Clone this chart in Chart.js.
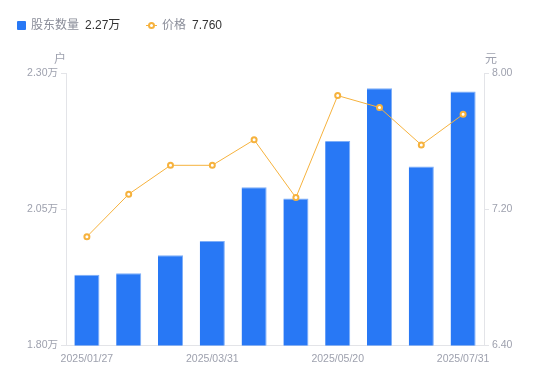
<!DOCTYPE html>
<html><head><meta charset="utf-8">
<script src="https://cdn.jsdelivr.net/npm/chart.js@4"></script>
<style>
html,body{margin:0;padding:0;background:#fff;}
#wrap{position:relative;width:550px;height:381px;font-family:"Liberation Sans","Noto Sans CJK SC",sans-serif;}
#c{position:absolute;left:0;top:0;}
.lg{position:absolute;top:17px;font-size:12px;line-height:16px;white-space:nowrap;}
.nm{color:#8a8d99;}
.vl{color:#333;margin-left:6px;}
.ttl{position:absolute;top:49px;font-size:12px;color:#9ea1ae;}
</style></head>
<body><div id="wrap">
<canvas id="c" width="550" height="381"></canvas>
<div class="lg" id="lg1" style="left:17px;"><span style="display:inline-block;width:9px;height:9px;background:#2878f5;border-radius:1px;margin-right:5px;vertical-align:-0.5px;"></span><span class="nm">股东数量</span><span class="vl" id="v1"></span></div>
<div class="lg" id="lg2" style="left:146px;"><span style="display:inline-block;position:relative;width:11px;height:9px;margin-right:5px;vertical-align:-0.5px;"><span style="position:absolute;left:0;top:4px;width:11px;height:1px;background:#f6b23d;"></span><span style="position:absolute;left:2px;top:1px;width:3px;height:3px;border:2px solid #f6b23d;border-radius:50%;background:#fff;"></span></span><span class="nm">价格</span><span class="vl" id="v2"></span></div>
<div class="ttl" style="left:54px;">户</div>
<div class="ttl" style="left:485px;">元</div>
</div>
<script>
const dates = ["2025/01/27","2025/02/10","2025/03/10","2025/03/31","2025/04/10","2025/04/30","2025/05/20","2025/06/10","2025/06/30","2025/07/31"];
const holders = [1.930,1.933,1.966,1.992,2.091,2.070,2.176,2.273,2.129,2.267];
const prices = [7.04,7.29,7.46,7.46,7.61,7.27,7.87,7.80,7.58,7.76];
const leftTicks = [1.80,2.05,2.30];
const rightTicks = [6.40,7.20,8.00];

document.getElementById('v1').textContent = holders[holders.length-1].toFixed(2)+'万';
document.getElementById('v2').textContent = prices[prices.length-1].toFixed(3);

const tickColor = '#9ea1ae';
const lineGrey = '#e3e4e8';
const tickFont = {family:'"Liberation Sans","Noto Sans CJK SC",sans-serif', size:10.5};

new Chart(document.getElementById('c'), {
  data: {
    labels: dates,
    datasets: [
      {type:'line', label:'价格', data:prices, yAxisID:'yR', borderColor:'#f6b23d', borderWidth:1,
       pointRadius:2.5, pointBorderWidth:2, pointBackgroundColor:'#fff', pointBorderColor:'#f6b23d', tension:0, order:0},
      {type:'bar', label:'股东数量', data:holders, yAxisID:'yL', backgroundColor:'#2878f5',
       borderColor:'#7eaef8', borderWidth:{top:1,right:1,left:0,bottom:0}, barPercentage:0.6, categoryPercentage:1, order:1}
    ]
  },
  options: {
    responsive:false, animation:false,
    layout:{padding:{top:73.5,left:0,right:0,bottom:0}},
    plugins:{legend:{display:false}, tooltip:{enabled:false}},
    scales:{
      x:{
        grid:{display:false, drawTicks:false},
        border:{display:true, color:lineGrey, width:1},
        ticks:{autoSkip:false, maxRotation:0, color:tickColor, font:tickFont, padding:7,
          callback:function(v,i){ return i%3===0 ? dates[i] : ''; }},
        afterFit:function(s){ s.height = 35.5; }
      },
      yL:{
        position:'left', min:leftTicks[0], max:leftTicks[leftTicks.length-1],
        afterBuildTicks:function(s){ s.ticks = leftTicks.map(v=>({value:v})); },
        grid:{drawOnChartArea:false, drawTicks:true, tickLength:5, color:lineGrey},
        border:{display:true, color:lineGrey, width:1},
        ticks:{color:tickColor, font:tickFont, padding:3, callback:v=>Number(v).toFixed(2)+'万'},
        afterFit:function(s){ s.width = 66; }
      },
      yR:{
        position:'right', min:rightTicks[0], max:rightTicks[rightTicks.length-1],
        afterBuildTicks:function(s){ s.ticks = rightTicks.map(v=>({value:v})); },
        grid:{drawOnChartArea:false, drawTicks:true, tickLength:5, color:lineGrey},
        border:{display:true, color:lineGrey, width:1},
        ticks:{color:tickColor, font:tickFont, padding:3, callback:v=>Number(v).toFixed(2)},
        afterFit:function(s){ s.width = 66; }
      }
    }
  }
});
</script>
</body></html>
